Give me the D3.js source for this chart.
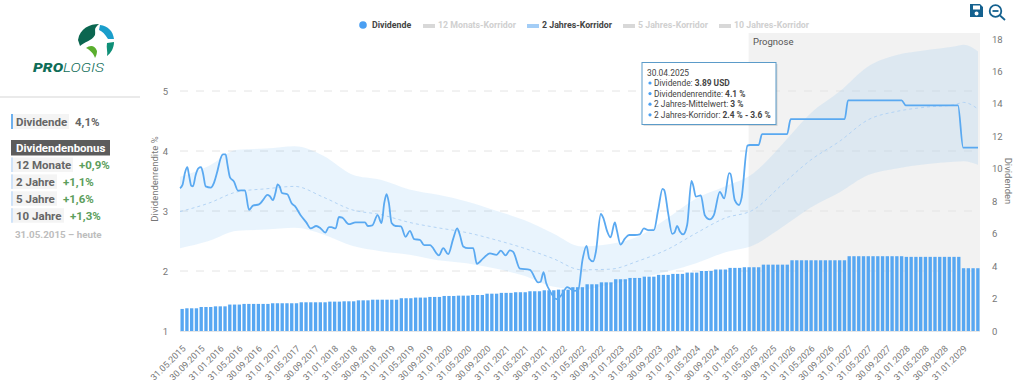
<!DOCTYPE html>
<html>
<head>
<meta charset="utf-8">
<script src="https://cdnjs.cloudflare.com/ajax/libs/d3/7.8.5/d3.min.js"></script>
<style>
body { margin: 0; background: #fff; overflow: hidden; }
svg { display: block; }
text { font-family: Roboto, sans-serif; }
</style>
</head>
<body>
<script>
// MONTHLY DIVIDEND BARS (right axis), 05.2015 - 04.2029
const dividends = [1.36,
  1.40,1.40,1.40, 1.48,1.48,1.48, 1.52,1.52,1.52, 1.63,1.63,1.63, 1.67,1.67,1.67, 1.67,1.67,1.67,
  1.71,1.71,1.71, 1.71,1.71,1.71, 1.77,1.77,1.77, 1.77,1.77,1.77, 1.81,1.81,1.81, 1.83,1.83,1.83,
  1.89,1.89,1.89, 1.93,1.93,1.93, 1.93,1.93,1.93, 2.02,2.02,2.02, 2.06,2.06,2.06, 2.10,2.10,2.10,
  2.16,2.16,2.16, 2.18,2.18,2.18, 2.22,2.22,2.22, 2.30,2.30,2.30, 2.35,2.35,2.35, 2.39,2.39,2.39,
  2.45,2.45,2.45, 2.51,2.51,2.51, 2.55,2.55,2.55, 2.70,2.70,2.70, 2.88,2.88,2.88, 3.00,3.00,3.00,
  3.19,3.19,3.19, 3.27,3.27,3.27, 3.35,3.35,3.35, 3.46,3.46,3.46, 3.52,3.52,3.52, 3.60,3.60,3.60,
  3.70,3.70,3.70, 3.79,3.79,3.79, 3.89,3.89,3.89, 3.93,3.93,3.93,3.93,
  4.09,4.09,4.09,4.09,4.09,4.09,
  4.36,4.36,4.36,4.36,4.36,4.36,4.36,4.36,4.36,4.36,4.36,4.36,
  4.61,4.61,4.61,4.61,4.61,4.61,4.61,4.61,4.61,4.61,4.61,4.61,
  4.57,4.57,4.57,4.57,4.57,4.57,4.57,4.57,4.57,4.57,4.57,4.57,
  3.87,3.87,3.87,3.87];

// YIELD LINE (left axis), months counted from 05.2015
const yieldMonths = [0,0.5,1.05,1.53,1.88,2.37,2.72,3.28,3.84,4.39,4.81,5.37,6.42,7.11,7.81,8.51,9,9.55,9.9,10.46,
  11.3,12.13,13.6,14.44,15.27,16.53,17.36,18.27,18.76,19.46,19.94,20.43,20.85,21.34,22.45,23.36,24.06,25.24,26.43,27.34,
  28.52,29.43,30.4,31.17,31.66,32.57,33.26,33.96,35.29,36.75,38.7,39.33,40.24,41.35,42.18,42.74,43.23,43.72,44.28,45.11,
  46.23,47.2,48.11,49.02,50.2,51.1,52.3,54.18,55.09,56.13,57.18,58,58.57,59.27,60.3,61.36,62.13,63.45,64.85,66.24,
  67.15,68.13,69.03,69.73,71.12,73.22,74.96,75.45,76.08,76.63,77.33,78.8,79.84,81.03,82.5,83.33,84.24,85.08,85.63,86.47,
  87.03,88.07,88.56,89.4,90.1,91,91.42,92.19,93.1,94,95.19,96.23,97.07,97.98,99.16,100.07,100.98,101.33,102.16,103,
  103.49,104.05,104.6,105.3,106.14,107.04,107.39,107.95,109,109.83,110.88,111.72,112.97,113.88,114.92,115.2,116.1,117,117.5,118.76,
  119.25,121.1,121.8,127.05,127.8,139.1,139.8,151,151.9,162.8,163.9,167];
const yieldValues = [3.38,3.43,3.64,3.73,3.6,3.42,3.41,3.6,3.71,3.73,3.63,3.41,3.39,3.47,3.66,3.88,3.945,3.945,3.79,3.56,
  3.49,3.34,3.345,3.02,3.09,3.11,3.18,3.27,3.25,3.18,3.29,3.445,3.41,3.3,3.28,3.13,3.08,2.93,2.81,2.71,
  2.75,2.71,2.64,2.73,2.73,2.71,2.9,2.89,2.78,2.81,2.81,2.75,2.76,2.93,2.8,3.13,3.28,3.13,2.8,2.75,
  2.745,2.57,2.67,2.53,2.52,2.43,2.43,2.26,2.38,2.28,2.54,2.71,2.6,2.41,2.38,2.38,2.12,2.21,2.295,2.27,
  2.34,2.26,2.345,2.32,2.04,2.02,1.81,1.82,1.98,1.8,1.68,1.53,1.6,1.73,1.67,1.68,2.19,2.42,2.21,2.16,
  2.32,2.95,2.89,2.66,2.56,2.81,2.68,2.44,2.54,2.6,2.6,2.61,2.71,2.68,2.68,3.02,3.37,3.35,2.96,2.62,
  2.64,2.75,2.66,2.61,2.77,3.5,3.43,3.24,3.26,2.93,2.86,2.93,3.32,3.21,3.63,3.62,3.18,3.1,3.21,4.09,
  4.1,4.1,4.28,4.28,4.53,4.53,4.845,4.845,4.76,4.76,4.055,4.055];

// 2 JAHRES-KORRIDOR
const corridorMonths = [0,6,12,18,24,30,36,42,48,54,60,66,72,78,84,90,96,102,108,114,120,126,132,138,144,150,156,162,164,167];
const corridorUpper = [3.57,3.75,4.02,4.04,4.08,3.92,3.61,3.52,3.36,3.27,3.16,3.01,2.85,2.63,2.41,2.45,2.58,2.88,3.21,3.41,3.63,4.11,4.63,4.99,5.41,5.6,5.68,5.74,5.77,5.66];
const corridorLower = [2.38,2.5,2.67,2.69,2.72,2.61,2.42,2.33,2.27,2.18,2.13,2.04,1.92,1.74,1.69,1.78,1.88,1.99,2.13,2.31,2.43,2.73,3.06,3.31,3.6,3.71,3.78,3.82,3.83,3.77];
const corridorMean = [2.99,3.13,3.32,3.37,3.41,3.23,3.02,2.94,2.81,2.72,2.64,2.52,2.38,2.21,2.02,2.03,2.17,2.36,2.63,2.88,3.02,3.44,3.85,4.16,4.52,4.66,4.73,4.77,4.81,4.7];

// X TICK LABELS, every fourth month
const tickLabels = ["31.05.2015","30.09.2015","31.01.2016","31.05.2016","30.09.2016","31.01.2017","31.05.2017","30.09.2017",
  "31.01.2018","31.05.2018","30.09.2018","31.01.2019","31.05.2019","30.09.2019","31.01.2020","31.05.2020","30.09.2020",
  "31.01.2021","31.05.2021","30.09.2021","31.01.2022","31.05.2022","30.09.2022","31.01.2023","31.05.2023","30.09.2023",
  "31.01.2024","31.05.2024","30.09.2024","31.01.2025","31.05.2025","30.09.2025","31.01.2026","31.05.2026","30.09.2026",
  "31.01.2027","31.05.2027","30.09.2027","31.01.2028","31.05.2028","30.09.2028","31.01.2029"];
const forecastStart = 119;

const legendItems = [
  {label: "12 Monats-Korridor", x: 423, on: false},
  {label: "2 Jahres-Korridor", x: 527, on: true},
  {label: "5 Jahres-Korridor", x: 623, on: false},
  {label: "10 Jahres-Korridor", x: 719, on: false}
];
const bonusRows = [
  {label: "12 Monate", value: "+0,9%", w: 62},
  {label: "2 Jahre", value: "+1,1%", w: 46},
  {label: "5 Jahre", value: "+1,6%", w: 46},
  {label: "10 Jahre", value: "+1,3%", w: 53}
];
const tooltipRows = [
  ["Dividende: ", "3.89 USD"],
  ["Dividendenrendite: ", "4.1 %"],
  ["2 Jahres-Mittelwert: ", "3 %"],
  ["2 Jahres-Korridor: ", "2.4 % - 3.6 %"]
];

const svg = d3.select("body").append("svg").attr("width", 1024).attr("height", 388);

//SCALES
const plotLeft = 180, plotRight = 980, plotTop = 33, plotBottom = 331;
const monthX = d3.scaleLinear().domain([0, 167]).range([plotLeft, 978]);
const barX = d3.scaleBand().domain(d3.range(dividends.length)).range([plotLeft, plotRight]).paddingInner(0.3).paddingOuter(0.1);
const yieldY = d3.scaleLinear().domain([1, 5]).range([plotBottom, 91]);
const divY = d3.scaleLinear().domain([0, 18]).range([plotBottom, 39]);

//PROGNOSE BACKGROUND
svg.append("rect").attr("x", monthX(forecastStart)).attr("y", plotTop)
   .attr("width", plotRight - monthX(forecastStart)).attr("height", plotBottom - plotTop)
   .attr("fill", "#f2f2f2");
svg.append("text").attr("x", 753).attr("y", 44.5).attr("font-size", 9.5).attr("fill", "#555").text("Prognose");

//GRID
svg.append("g").selectAll("line").data([2, 3, 4, 5]).enter().append("line")
   .attr("x1", plotLeft).attr("x2", plotRight)
   .attr("y1", d => yieldY(d)).attr("y2", d => yieldY(d))
   .attr("stroke", "#e4e4e4").attr("stroke-dasharray", "8,8");
svg.append("line").attr("x1", plotLeft).attr("x2", plotRight).attr("y1", plotBottom + 0.5).attr("y2", plotBottom + 0.5).attr("stroke", "#e6e6e6");

//BARS
svg.append("g").selectAll("rect").data(dividends).enter().append("rect")
   .attr("x", (d, i) => barX(i)).attr("width", barX.bandwidth())
   .attr("y", d => divY(d)).attr("height", d => plotBottom - divY(d))
   .attr("fill", "#57a7f2");

//CORRIDOR
const band = d3.area().curve(d3.curveMonotoneX)
   .x((d, i) => monthX(corridorMonths[i]))
   .y0((d, i) => yieldY(corridorLower[i]))
   .y1((d, i) => yieldY(corridorUpper[i]));
svg.append("path").attr("d", band(corridorMonths)).attr("fill", "#4da3f0").attr("fill-opacity", 0.12);

const meanLine = d3.line().curve(d3.curveMonotoneX)
   .x((d, i) => monthX(corridorMonths[i]))
   .y((d, i) => yieldY(corridorMean[i]));
svg.append("path").attr("d", meanLine(corridorMonths)).attr("fill", "none")
   .attr("stroke", "#b4d4f5").attr("stroke-width", 1).attr("stroke-dasharray", "3,3");

//YIELD LINE
const yieldLine = d3.line().curve(d3.curveMonotoneX)
   .x((d, i) => monthX(yieldMonths[i]))
   .y((d, i) => yieldY(yieldValues[i]));
svg.append("path").attr("d", yieldLine(yieldMonths)).attr("fill", "none")
   .attr("stroke", "#5aa9f1").attr("stroke-width", 1.8).attr("stroke-linejoin", "round");

//AXES
const styleAxis = g => {
  g.select(".domain").remove();
  g.selectAll(".tick line").remove();
  g.selectAll("text").attr("fill", "#777").style("font-family", "Roboto, sans-serif");
};
svg.append("g").attr("transform", `translate(${plotLeft - 9},0)`)
   .call(d3.axisLeft(yieldY).tickValues([1, 2, 3, 4, 5]).tickFormat(d3.format("d")).tickSize(0))
   .attr("font-size", 9.5).call(styleAxis);
svg.append("g").attr("transform", `translate(${plotRight + 9},0)`)
   .call(d3.axisRight(divY).tickValues(d3.range(0, 19, 2)).tickFormat(d3.format("d")).tickSize(0))
   .attr("font-size", 9.5).call(styleAxis);

const xaxis = svg.append("g").attr("transform", `translate(0,${plotBottom})`)
   .call(d3.axisBottom(barX).tickValues(tickLabels.map((d, i) => i * 4)).tickFormat(d => tickLabels[d / 4]).tickSize(0))
   .attr("font-size", 9).call(styleAxis);
xaxis.selectAll("text").attr("text-anchor", "end").attr("dx", 0).attr("dy", 0)
   .attr("transform", "translate(2,16) rotate(-45)");

svg.append("text").attr("transform", "translate(158,179) rotate(-90)").attr("text-anchor", "middle")
   .attr("font-size", 9.5).attr("fill", "#777").text("Dividendenrendite %");
svg.append("text").attr("transform", "translate(1005,181) rotate(90)").attr("text-anchor", "middle")
   .attr("font-size", 9.5).attr("fill", "#777").text("Dividenden");

//LEGEND
svg.append("circle").attr("cx", 363).attr("cy", 25).attr("r", 3.8).attr("fill", "#4a9ff2");
svg.append("text").attr("x", 372).attr("y", 28).attr("font-size", 8.8).attr("font-weight", 700).attr("fill", "#444").text("Dividende");
const legend = svg.append("g").selectAll("g").data(legendItems).enter().append("g");
legend.append("rect").attr("x", d => d.x).attr("y", 24).attr("width", 12).attr("height", 4)
   .attr("fill", d => d.on ? "#a3cdf6" : "#d8d8d8");
legend.append("text").attr("x", d => d.x + 15).attr("y", 28).attr("font-size", 8.8).attr("font-weight", 700)
   .attr("fill", d => d.on ? "#444" : "#d0d0d0").text(d => d.label);

//TOOLTIP
const tip = svg.append("g").attr("transform", "translate(642,62.5)");
tip.append("rect").attr("x", 1.5).attr("y", 1.5).attr("width", 134).attr("height", 62).attr("fill", "#000").attr("fill-opacity", 0.12);
tip.append("rect").attr("width", 134).attr("height", 62).attr("fill", "#fff").attr("stroke", "#5b9bc9");
tip.append("text").attr("x", 5).attr("y", 13).attr("font-size", 8.4).attr("fill", "#444").text("30.04.2025");
tooltipRows.forEach((r, i) => {
  const y = 23.5 + i * 10.6;
  tip.append("circle").attr("cx", 8).attr("cy", y - 3).attr("r", 1.6).attr("fill", "#4a9ff2");
  const t = tip.append("text").attr("x", 12).attr("y", y).attr("font-size", 8.4).attr("fill", "#444");
  t.append("tspan").text(r[0]);
  t.append("tspan").attr("font-weight", 700).text(r[1]);
});

//LEFT PANEL
svg.append("rect").attr("x", 0).attr("y", 96).attr("width", 140).attr("height", 2).attr("fill", "#eaeaea");
const side = svg.append("g").attr("font-size", 11.5).attr("font-weight", 700);
side.append("rect").attr("x", 11).attr("y", 114).attr("width", 58).attr("height", 15).attr("fill", "#f4f4f4");
side.append("rect").attr("x", 11).attr("y", 114).attr("width", 2).attr("height", 15).attr("fill", "#6db0ee");
side.append("text").attr("x", 16).attr("y", 126).attr("fill", "#666").text("Dividende");
side.append("text").attr("x", 75).attr("y", 126).attr("fill", "#666").text("4,1%");
side.append("rect").attr("x", 11).attr("y", 140).attr("width", 99).attr("height", 15.5).attr("fill", "#5c5c5c");
side.append("text").attr("x", 16).attr("y", 152).attr("fill", "#fff").text("Dividendenbonus");
bonusRows.forEach((r, i) => {
  const top = 157.5 + i * 16.9;
  side.append("rect").attr("x", 11).attr("y", top).attr("width", r.w).attr("height", 14.5).attr("fill", "#f4f4f4");
  side.append("rect").attr("x", 11).attr("y", top).attr("width", 2).attr("height", 14.5).attr("fill", "#cfe3f9");
  side.append("text").attr("x", 16).attr("y", top + 11.5).attr("fill", "#666").text(r.label);
  side.append("text").attr("x", 11 + r.w + 6).attr("y", top + 11.5).attr("fill", "#5c9e5c").text(r.value);
});
svg.append("text").attr("x", 15).attr("y", 238).attr("font-size", 9.8).attr("font-weight", 700).attr("fill", "#bdbdbd").text("31.05.2015 – heute");

//LOGO
const logo = svg.append("g");
logo.append("path").attr("d", "M99 24 C90 24 80 28 78 40 L80 46 C84 42 92 41 95 35 C96 30 93 29 99 24 Z").attr("fill", "#0b6650");
logo.append("path").attr("d", "M100 25 C108 26 113 31 114 39 L108 39 C105 34 102 31 99 30 Z").attr("fill", "#1a9ecb");
logo.append("path").attr("d", "M86 48 C90 45 95 45 97 51 C97 54 96 56 95 58 C94 54 90 50 86 48 Z").attr("fill", "#5aae2e");
logo.append("path").attr("d", "M107 43 L114 42 C114 48 111 53 107 56 C108 52 106 48 107 43 Z").attr("fill", "#0f8f77");
const logoText = svg.append("text").attr("x", 33).attr("y", 72).attr("font-size", 13)
   .attr("font-style", "italic").attr("fill", "#0f6e58")
   .attr("textLength", 71).attr("lengthAdjust", "spacingAndGlyphs");
logoText.append("tspan").attr("font-weight", 900).text("PRO");
logoText.append("tspan").attr("font-weight", 300).text("LOGIS");

//ICONS
svg.append("path").attr("fill", "#14618f").attr("fill-rule", "evenodd")
   .attr("d", "M970 4 H980 L983 7 V17 H970 Z M973 5.5 V9.5 H980 V5.5 Z M976.5 11.5 A2 2 0 1 0 976.6 15.5 A2 2 0 1 0 976.5 11.5 Z");
const zoomIcon = svg.append("g").attr("fill", "none").attr("stroke", "#14618f").attr("stroke-width", 1.8);
zoomIcon.append("circle").attr("cx", 995.5).attr("cy", 11).attr("r", 5.8);
zoomIcon.append("line").attr("x1", 992.5).attr("x2", 998.5).attr("y1", 11).attr("y2", 11);
zoomIcon.append("line").attr("x1", 1000).attr("x2", 1005).attr("y1", 15.5).attr("y2", 20);
</script>
</body>
</html>
